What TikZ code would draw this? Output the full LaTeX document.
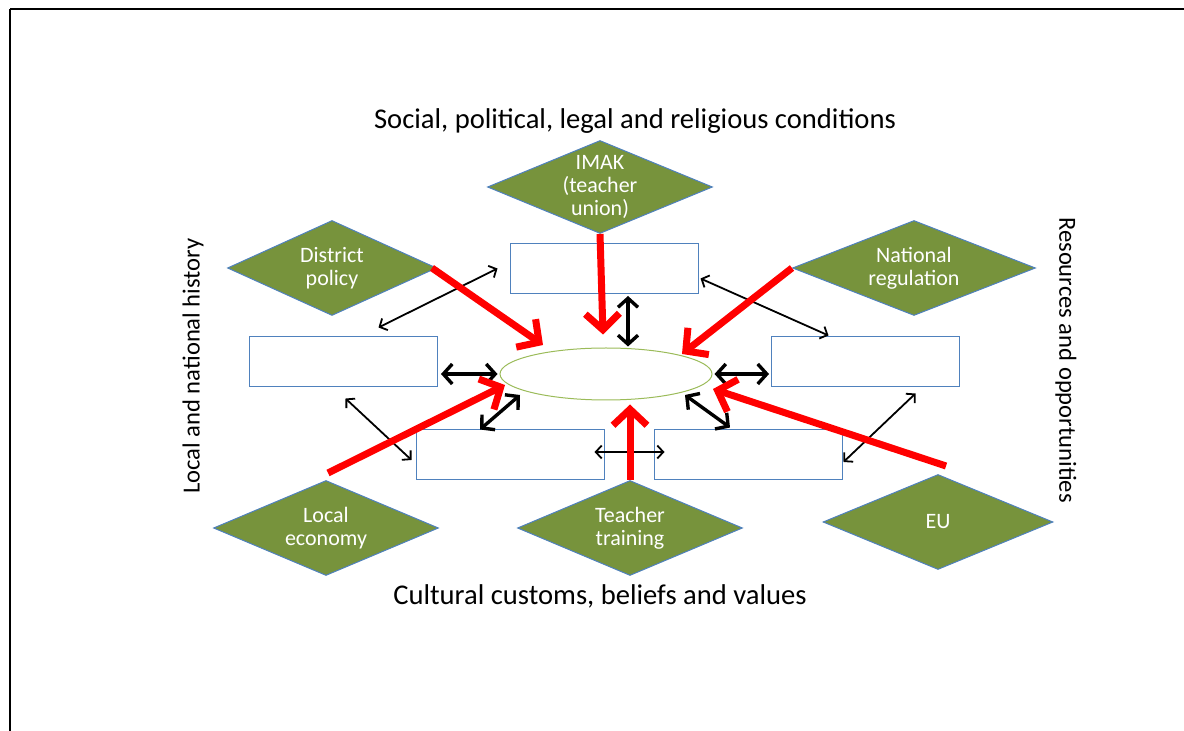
\documentclass[tikz,border=0pt]{standalone}
\usepackage{fontspec}
\setmainfont{Carlito}
\usetikzlibrary{shapes.geometric,arrows.meta,positioning,calc}
\definecolor{Olive}{HTML}{77933C}
\definecolor{Steel}{HTML}{4F81BD}
\definecolor{Leaf}{HTML}{9BBB59}
\tikzset{
    % green diamonds for the outside influences
    factor/.style={
        diamond,
        draw=Steel,
        fill=Olive,
        line width=0.5pt,
        inner sep=0pt,
        minimum width=112.5pt,
        minimum height=47.5pt,
        label={[factortext]center:#1}
    },
    factortext/.style={
        text=white,
        align=center,
        font=\fontsize{11}{11.6}\selectfont
    },
    % empty white boxes round the centre
    slot/.style={
        rectangle,
        draw=Steel,
        fill=white,
        line width=0.5pt,
        minimum width=94pt,
        minimum height=25pt
    },
    core/.style={
        ellipse,
        draw=Leaf,
        fill=white,
        line width=0.5pt,
        inner sep=0pt,
        minimum width=106pt,
        minimum height=26pt
    },
    frametext/.style={
        font=\fontsize{14.3}{16}\selectfont
    },
    sidetext/.style={
        font=\fontsize{12.3}{14}\selectfont
    },
    thinlink/.style={
        {Straight Barb[length=3pt,width=6.5pt]}-{Straight Barb[length=3pt,width=6.5pt]},
        line width=0.9pt
    },
    thicklink/.style={
        {Straight Barb[length=4.5pt,width=10pt]}-{Straight Barb[length=4.5pt,width=10pt]},
        line width=1.7pt
    },
    pressure/.style={
        -{Straight Barb[length=8pt,width=17pt]},
        line width=3.5pt,
        color=red
    }
}

\begin{document}
\begin{tikzpicture}[x=0.5pt,y=-0.5pt]
    \useasboundingbox (0,0) rectangle (1184,731);
    \draw[line width=1.2pt] (10,9) -- (1184,9);
    \draw[line width=0.6pt] (10,9) -- (10,731);

    % frame texts
    \node[frametext] (social) at (635,121) {Social, political, legal and religious conditions};
    \node[frametext] (cultural) at (600,596) {Cultural customs, beliefs and values};
    \node[sidetext, rotate=90] (history) at (193,366) {Local and national history};
    \node[sidetext, rotate=-90] (resources) at (1066,360) {Resources and opportunities};

    % outside influences
    \node[factor={IMAK\\(teacher\\union)}, minimum height=46.5pt] (imak) at (600,187) {};
    \node[factor={District\\policy}, minimum width=104.5pt] (district) at (332,268) {};
    \node[factor={National\\regulation}, minimum width=121.5pt] (national) at (914,268) {};
    \node[factor={Local\\economy}] (economy) at (326,528) {};
    \node[factor={Teacher\\training}] (training) at (630,528) {};
    \node[factor={EU}, minimum width=115pt] (eu) at (938,522) {};

    % boxes and centre
    \node[slot] (topbox) at (604,268.5) {};
    \node[slot] (leftbox) at (343.5,362) {};
    \node[slot] (rightbox) at (865.5,362) {};
    \node[slot] (lowleft) at (510,455) {};
    \node[slot] (lowright) at (748,455) {};
    \node[core] (centre) at (606,374) {};

    % Arrows
    \draw[thinlink] ($(leftbox.north)+(35,-9)$) -- ($(topbox.west)+(-12,0)$);
    \draw[thinlink] ($(topbox.east)+(2,10)$) -- ($(rightbox.north)+(-37,-1)$);
    \draw[thinlink] ($(leftbox.south)+(2,11)$) -- ($(lowleft.west)+(-4,5)$);
    \draw[thinlink] ($(rightbox.south)+(50,6)$) -- ($(lowright.east)+(1,7)$);
    \draw[thinlink] ($(lowleft.east)+(-10,-3)$) -- ($(lowright.west)+(11,-3)$);

    \draw[thicklink] ($(topbox.south)+(24,2)$) -- ($(centre.north)+(22,-1)$);
    \draw[thicklink] ($(leftbox.east)+(3,12)$) -- ($(centre.west)+(-2,0)$);
    \draw[thicklink] ($(centre.east)+(2,0)$) -- ($(rightbox.west)+(-2,12)$);
    \draw[thicklink] ($(centre.center)+(-86,21)$) -- ($(lowleft.north)+(-30,0)$);
    \draw[thicklink] ($(centre.center)+(79,21)$) -- ($(lowright.north)+(-18,-2)$);

    \draw[pressure] (imak.south) -- ($(centre.north)+(-3,-13)$);
    \draw[pressure] ($(district.east)+(-5,0)$) -- ($(centre.center)+(-63,-29)$);
    \draw[pressure] (national.west) -- ($(centre.center)+(76,-20)$);
    \draw[pressure] ($(economy.north)+(2,-7)$) -- ($(centre.center)+(-101,11)$);
    \draw[pressure] (training.north) -- ($(centre.south)+(24,4)$);
    \draw[pressure] ($(eu.north)+(8,-8)$) -- ($(centre.center)+(107,15)$);
\end{tikzpicture}
\end{document}
